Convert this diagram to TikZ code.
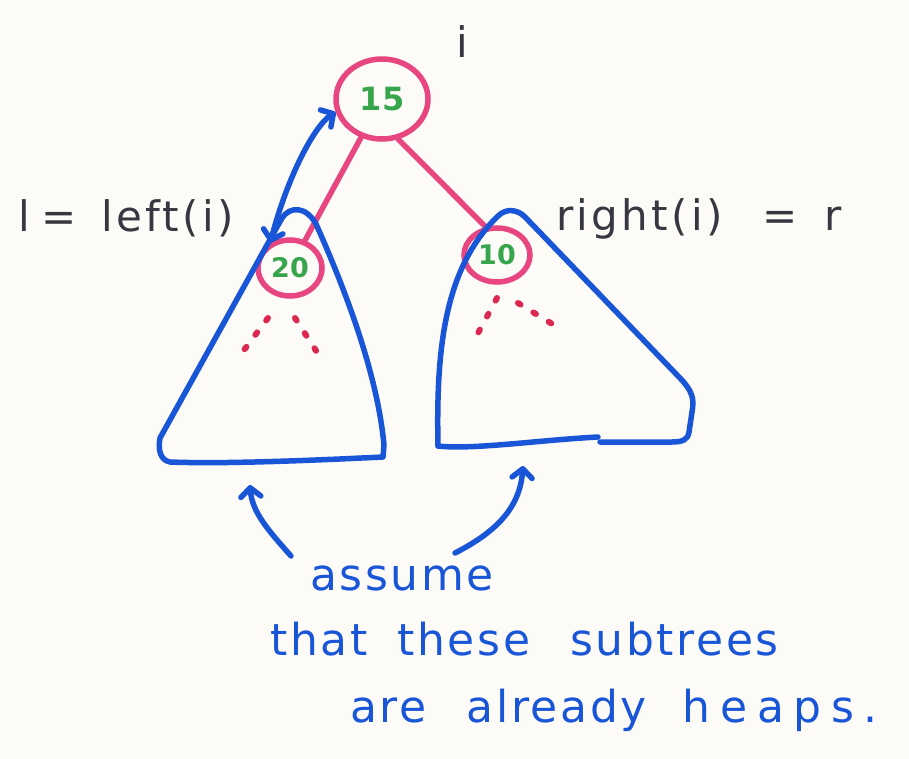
\documentclass[tikz,border=0pt]{standalone}
\usepackage{fontspec}
\setmainfont{DejaVu Sans}
\usetikzlibrary{shapes.geometric,arrows.meta}
\definecolor{paper}{RGB}{252,251,247}
\definecolor{pinkc}{RGB}{232,70,128}
\definecolor{greenc}{RGB}{55,165,75}
\definecolor{bluec}{RGB}{25,85,215}
\definecolor{inkc}{RGB}{55,55,65}
\definecolor{reddot}{RGB}{220,40,80}
\tikzset{
  keynode/.style={ellipse,draw=pinkc,line width=5.5pt,text=greenc,inner sep=0pt},
  pinkedge/.style={pinkc,line width=5.5pt,line cap=round},
  blueline/.style={bluec,line width=5.5pt,line cap=round,line join=round},
  dotline/.style={reddot,line width=6pt,line cap=round,dash pattern=on 3pt off 15pt},
  inklabel/.style={text=inkc,font=\fontsize{42}{46}\selectfont\addfontfeatures{LetterSpace=8},inner sep=0pt},
  bluetext/.style={text=bluec,font=\fontsize{44}{48}\selectfont\addfontfeatures{LetterSpace=6},inner sep=0pt,anchor=base west},
  myb/.tip={Straight Barb[length=9pt,width=20pt,line cap=round,line join=round]},
  bluearrow/.style={blueline,-{myb}}
}
\begin{document}
\begin{tikzpicture}[x=1pt,y=-1pt]
\fill[paper] (0,0) rectangle (909,759);
\useasboundingbox (0,0) rectangle (909,759);

% nodes
\node[keynode,minimum width=92pt,minimum height=80pt,font=\fontsize{32}{34}\selectfont\bfseries] (n15) at (382,99) {15};
\node[keynode,minimum width=64pt,minimum height=56pt,font=\fontsize{27}{30}\selectfont\bfseries] (n20) at (290,268) {20};
\node[keynode,minimum width=66pt,minimum height=54pt,font=\fontsize{27}{30}\selectfont\bfseries] (n10) at (497,255) {10};

% labels
\node[inklabel] (li) at (462,42) {i};
\node[inklabel,anchor=base west] (ll) at (18,232) {l\hspace{12pt}=\hspace{24pt}left(i)};
\node[inklabel,anchor=base west] (lr) at (556,230) {right(i)\hspace{40pt}=\hspace{26pt}r};

% tree edges
\draw[pinkedge] (n15) -- (n20);
\draw[pinkedge] (n15.292) -- (n10.112);

% swap arrow
\draw[blueline,{myb}-{myb}] (n20.128) .. controls (288,175) and (315,125) .. (n15.196);

% left subtree
\draw[blueline] (160,438) -- (282,218) .. controls (290,206) and (306,206) .. (316,224)
  .. controls (350,300) and (378,380) .. (384,445) -- (383,457)
  .. controls (300,461) and (220,464) .. (170,462)
  .. controls (160,460) and (158,450) .. (160,438);
% right subtree
\draw[blueline] (438,446) .. controls (436,350) and (444,268) .. (498,216)
  .. controls (506,208) and (518,209) .. (526,218) -- (678,376)
  .. controls (694,392) and (694,400) .. (692,412) -- (689,432)
  .. controls (688,440) and (682,442) .. (672,442) -- (600,442);
\draw[blueline] (598,437) .. controls (540,440) and (472,450) .. (438,446);

% dotted children
\draw[dotline] (268,318) -- (238,358);
\draw[dotline] (295,318) -- (322,360);
\draw[dotline] (497,298) -- (477,335);
\draw[dotline] (518,303) -- (562,330);

% caption
\node[bluetext] (t1) at (310,590) {assume};
\node[bluetext] (t2) at (270,655) {that\hspace{30pt}these\hspace{40pt}subtrees};
\node[bluetext] (t3) at (350,722) {are\hspace{40pt}already\hspace{36pt}{\addfontfeatures{LetterSpace=22}heaps.}};

\coordinate (a1) at (291,556);
\coordinate (a2) at (455,553);
\coordinate (h1) at (250,485);
\coordinate (h2) at (523,466);
\draw[bluearrow] (a1) .. controls (268,530) and (252,512) .. (h1);
\draw[bluearrow] (a2) .. controls (500,530) and (520,505) .. (h2);
\end{tikzpicture}
\end{document}
